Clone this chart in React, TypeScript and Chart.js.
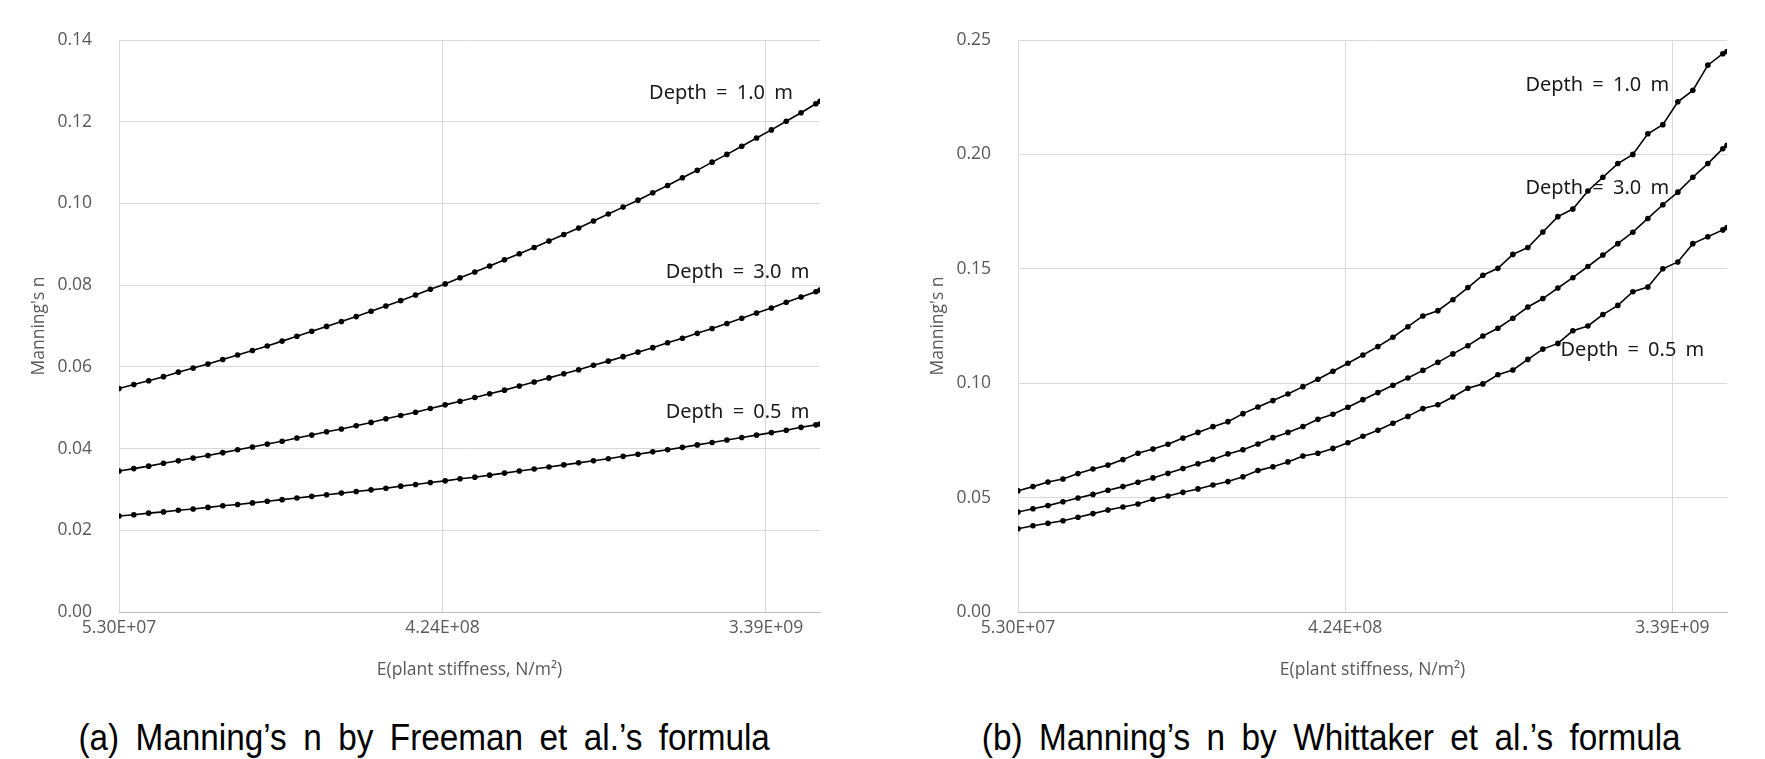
import React, { useEffect, useRef } from 'react';
import { Chart, registerables } from 'chart.js';

Chart.register(...registerables);

// E (plant stiffness, N/m²) at each computed point
const E_VALUES = [
  5.30e7, 5.83e7, 6.413e7, 7.054e7, 7.760e7, 8.536e7, 9.389e7, 1.0328e8, 1.1361e8, 1.2497e8,
  1.3747e8, 1.5122e8, 1.6634e8, 1.8297e8, 2.0127e8, 2.2139e8, 2.4353e8, 2.6789e8, 2.9468e8, 3.2414e8,
  3.5656e8, 3.9221e8, 4.3143e8, 4.7458e8, 5.2204e8, 5.7424e8, 6.3166e8, 6.9483e8, 7.6431e8, 8.4074e8,
  9.2482e8, 1.0173e9, 1.1190e9, 1.2309e9, 1.3540e9, 1.4894e9, 1.6384e9, 1.8022e9, 1.9824e9, 2.1807e9,
  2.3987e9, 2.6386e9, 2.9025e9, 3.1927e9, 3.5120e9, 3.8632e9, 4.2495e9, 4.6745e9, 4.80e9,
];

// (a) Freeman et al.
const FREEMAN_D10 = [
  0.0547, 0.0557, 0.0566, 0.0576, 0.0587, 0.0597, 0.0607, 0.0618, 0.0629, 0.0640,
  0.0651, 0.0663, 0.0675, 0.0687, 0.0699, 0.0711, 0.0723, 0.0736, 0.0749, 0.0762,
  0.0776, 0.0790, 0.0803, 0.0818, 0.0832, 0.0847, 0.0862, 0.0877, 0.0892, 0.0908,
  0.0924, 0.0940, 0.0957, 0.0974, 0.0991, 0.1008, 0.1026, 0.1044, 0.1063, 0.1081,
  0.1101, 0.1120, 0.1140, 0.1160, 0.1180, 0.1201, 0.1222, 0.1244, 0.1250,
];
const FREEMAN_D30 = [
  0.0345, 0.0351, 0.0357, 0.0364, 0.0370, 0.0377, 0.0383, 0.0390, 0.0397, 0.0404,
  0.0411, 0.0418, 0.0426, 0.0433, 0.0441, 0.0448, 0.0456, 0.0464, 0.0473, 0.0481,
  0.0489, 0.0498, 0.0507, 0.0516, 0.0525, 0.0534, 0.0543, 0.0553, 0.0563, 0.0573,
  0.0583, 0.0593, 0.0604, 0.0614, 0.0625, 0.0636, 0.0647, 0.0659, 0.0670, 0.0682,
  0.0694, 0.0706, 0.0719, 0.0732, 0.0744, 0.0758, 0.0771, 0.0784, 0.0788,
];
const FREEMAN_D05 = [
  0.0235, 0.0238, 0.0242, 0.0245, 0.0249, 0.0252, 0.0256, 0.0260, 0.0263, 0.0267,
  0.0271, 0.0275, 0.0279, 0.0283, 0.0287, 0.0291, 0.0295, 0.0299, 0.0303, 0.0308,
  0.0312, 0.0317, 0.0321, 0.0326, 0.0330, 0.0335, 0.0340, 0.0345, 0.0350, 0.0355,
  0.0360, 0.0365, 0.0370, 0.0375, 0.0381, 0.0386, 0.0392, 0.0397, 0.0403, 0.0409,
  0.0415, 0.0421, 0.0427, 0.0433, 0.0439, 0.0445, 0.0452, 0.0458, 0.0460,
];

// (b) Whittaker et al.
const WHITTAKER_D10 = [
  0.0530, 0.0548, 0.0568, 0.0581, 0.0605, 0.0625, 0.0642, 0.0666, 0.0694, 0.0712,
  0.0733, 0.0760, 0.0785, 0.0810, 0.0832, 0.0867, 0.0896, 0.0924, 0.0953, 0.0985,
  0.1017, 0.1052, 0.1087, 0.1123, 0.1160, 0.1201, 0.1247, 0.1294, 0.1317, 0.1365,
  0.1418, 0.1472, 0.1502, 0.1563, 0.1593, 0.1661, 0.1728, 0.1761, 0.1840, 0.1900,
  0.1960, 0.2000, 0.2090, 0.2130, 0.2230, 0.2280, 0.2390, 0.2440, 0.2450,
];
const WHITTAKER_D30 = [
  0.0437, 0.0451, 0.0465, 0.0482, 0.0498, 0.0514, 0.0532, 0.0548, 0.0567, 0.0586,
  0.0606, 0.0627, 0.0648, 0.0667, 0.0691, 0.0709, 0.0734, 0.0762, 0.0785, 0.0811,
  0.0842, 0.0864, 0.0895, 0.0928, 0.0959, 0.0991, 0.1023, 0.1056, 0.1091, 0.1128,
  0.1164, 0.1206, 0.1240, 0.1284, 0.1333, 0.1370, 0.1416, 0.1461, 0.1510, 0.1560,
  0.1610, 0.1660, 0.1720, 0.1780, 0.1835, 0.1900, 0.1960, 0.2025, 0.2040,
];
const WHITTAKER_D05 = [
  0.0364, 0.0377, 0.0388, 0.0399, 0.0414, 0.0430, 0.0446, 0.0459, 0.0472, 0.0493,
  0.0507, 0.0523, 0.0538, 0.0555, 0.0570, 0.0591, 0.0618, 0.0635, 0.0656, 0.0682,
  0.0694, 0.0715, 0.0740, 0.0768, 0.0794, 0.0825, 0.0855, 0.0889, 0.0906, 0.0940,
  0.0978, 0.0997, 0.1037, 0.1058, 0.1104, 0.1149, 0.1174, 0.1229, 0.1250, 0.1300,
  0.1340, 0.1400, 0.1420, 0.1500, 0.1530, 0.1610, 0.1640, 0.1670, 0.1680,
];

const X_MIN = 5.3e7;
const X_MAX = 4.8e9;
const X_TICKS = [5.3e7, 4.24e8, 3.392e9];
const X_TICK_LABELS = ['5.30E+07', '4.24E+08', '3.39E+09'];

const SERIES_NAMES = ['Depth = 1.0 m', 'Depth = 3.0 m', 'Depth = 0.5 m'];

const Y_TITLE = "Manning's n";
const X_TITLE = 'E(plant stiffness, N/m²)';
const CAPTION_A = '(a) Manning’s n by Freeman et al.’s formula';
const CAPTION_B = '(b) Manning’s n by Whittaker et al.’s formula';

type LabelSpot = { text: string; x: number; y: number };

const AXIS_GRAY = '#595959';
const GRID = '#d9d9d9';
const AXIS_FONT = '"Open Sans", sans-serif';

function labelPlugin(spots: LabelSpot[]) {
  return {
    id: 'seriesLabels',
    afterDatasetsDraw(chart: any) {
      const { ctx, scales } = chart;
      ctx.save();
      ctx.font = '20px "Noto Sans", sans-serif';
      ctx.fillStyle = '#1a1a1a';
      ctx.textAlign = 'left';
      ctx.textBaseline = 'middle';
      try { (ctx as any).wordSpacing = '4px'; } catch (e) { /* ignore */ }
      for (const s of spots) {
        const px = scales.x.getPixelForValue(s.x);
        const py = scales.y.getPixelForValue(s.y);
        ctx.fillText(s.text, px, py);
      }
      ctx.restore();
    },
  };
}

function buildConfig(
  series: number[][],
  yMax: number,
  yStep: number,
  yAxisWidth: number,
  yTitlePad: number,
  padRight: number,
  spots: LabelSpot[],
): any {
  return {
    type: 'line',
    data: {
      datasets: series.map((vals, i) => ({
        label: SERIES_NAMES[i],
        data: E_VALUES.map((x, j) => ({ x, y: vals[j] })),
        borderColor: '#000',
        backgroundColor: '#000',
        borderWidth: 1.6,
        pointRadius: 2.8,
        pointBorderWidth: 0,
        pointHoverRadius: 2.8,
        tension: 0,
        fill: false,
      })),
    },
    options: {
      responsive: false,
      animation: false,
      events: [],
      layout: { padding: { left: 0, top: 40, right: padRight, bottom: 0 } },
      plugins: {
        legend: { display: false },
        tooltip: { enabled: false },
        title: { display: false },
      },
      scales: {
        x: {
          type: 'logarithmic',
          min: X_MIN,
          max: X_MAX,
          afterBuildTicks: (scale: any) => {
            scale.ticks = X_TICKS.map((v) => ({ value: v }));
          },
          afterFit: (scale: any) => {
            scale.height = 88;
          },
          grid: { color: GRID, lineWidth: 1, drawTicks: false },
          border: { display: true, color: '#bfbfbf', width: 1 },
          ticks: {
            autoSkip: false,
            maxRotation: 0,
            padding: 6,
            color: AXIS_GRAY,
            font: { family: AXIS_FONT, size: 17.5 },
            callback: (_v: any, i: number) => X_TICK_LABELS[i],
          },
          title: {
            display: true,
            text: X_TITLE,
            color: AXIS_GRAY,
            font: { family: AXIS_FONT, size: 17.5 },
            padding: { top: 0, bottom: 19 },
          },
        },
        y: {
          type: 'linear',
          min: 0,
          max: yMax,
          afterFit: (scale: any) => {
            scale.width = yAxisWidth;
          },
          grid: { color: GRID, lineWidth: 1, drawTicks: false },
          border: { display: false },
          ticks: {
            stepSize: yStep,
            padding: 27,
            color: AXIS_GRAY,
            font: { family: AXIS_FONT, size: 17.5 },
            callback: (v: any) => Number(v).toFixed(2),
          },
          title: {
            display: true,
            text: Y_TITLE,
            color: AXIS_GRAY,
            font: { family: AXIS_FONT, size: 17.5 },
            padding: { top: yTitlePad, bottom: 0 },
          },
        },
      },
    },
    plugins: [labelPlugin(spots)],
  };
}

function ChartCanvas(props: { config: any; left: number; width: number; height: number }) {
  const ref = useRef<HTMLCanvasElement | null>(null);
  useEffect(() => {
    if (!ref.current) return;
    const chart = new Chart(ref.current, props.config);
    return () => chart.destroy();
  }, []);
  return (
    <canvas
      ref={ref}
      width={props.width}
      height={props.height}
      style={{ position: 'absolute', left: props.left, top: 0, width: props.width, height: props.height }}
    />
  );
}

const LEFT_SPOTS: LabelSpot[] = [
  { text: SERIES_NAMES[0], x: 1.6e9, y: 0.127 },
  { text: SERIES_NAMES[1], x: 1.78e9, y: 0.0831 },
  { text: SERIES_NAMES[2], x: 1.78e9, y: 0.0488 },
];
const RIGHT_SPOTS: LabelSpot[] = [
  { text: SERIES_NAMES[0], x: 1.333e9, y: 0.2303 },
  { text: SERIES_NAMES[1], x: 1.333e9, y: 0.1852 },
  { text: SERIES_NAMES[2], x: 1.666e9, y: 0.1145 },
];

const captionStyle = (center: number): React.CSSProperties => ({
  position: 'absolute',
  left: center - 450,
  width: 900,
  top: 718,
  textAlign: 'center',
  fontFamily: '"Liberation Sans", Arial, sans-serif',
  fontSize: 37,
  lineHeight: '40px',
  color: '#000',
  whiteSpace: 'nowrap',
  wordSpacing: '8px',
});

export default function App() {
  const leftConfig = buildConfig(
    [FREEMAN_D10, FREEMAN_D30, FREEMAN_D05], 0.14, 0.02, 119, 29, 60, LEFT_SPOTS,
  );
  const rightConfig = buildConfig(
    [WHITTAKER_D10, WHITTAKER_D30, WHITTAKER_D05], 0.25, 0.05, 138, 48, 38, RIGHT_SPOTS,
  );
  return (
    <div style={{ position: 'absolute', left: 0, top: 0, width: 1765, height: 759, background: '#fff', overflow: 'hidden' }}>
      <ChartCanvas config={leftConfig} left={0} width={880} height={700} />
      <ChartCanvas config={rightConfig} left={880} width={885} height={700} />
      <div style={captionStyle(424)}>
        <span style={{ display: 'inline-block', transform: 'scaleX(0.9)' }}>{CAPTION_A}</span>
      </div>
      <div style={captionStyle(1331)}>
        <span style={{ display: 'inline-block', transform: 'scaleX(0.9)' }}>{CAPTION_B}</span>
      </div>
    </div>
  );
}
